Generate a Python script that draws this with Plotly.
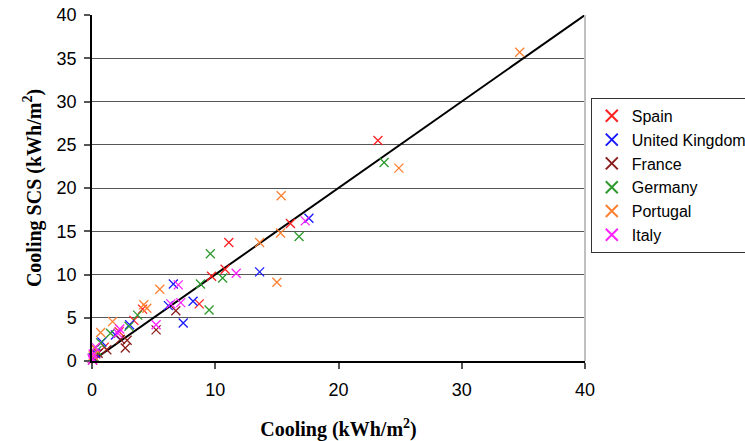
import plotly.graph_objects as go

# ---- data ----
countries = ["Spain", "United Kingdom", "France", "Germany", "Portugal", "Italy"]
colors = ["#ff2020", "#1a1aff", "#8b1c1c", "#2e9a2e", "#ff8030", "#ff20ff"]

spain_x = [23.2, 16.1, 11.1, 10.8, 9.7, 8.7, 4.1, 3.4, 2.2, 1.0, 0.3, 0.1]
spain_y = [25.5, 15.9, 13.7, 10.6, 9.8, 6.6, 6.0, 4.7, 3.4, 1.6, 0.8, 0.3]

uk_x = [17.6, 13.6, 8.2, 7.4, 6.6, 6.2, 3.05, 1.9, 0.8, 0.3, 0.1]
uk_y = [16.5, 10.3, 6.9, 4.4, 8.9, 6.4, 4.2, 3.0, 2.2, 0.9, 0.4]

france_x = [6.8, 5.2, 2.3, 2.85, 2.7, 1.2, 0.5, 0.2, 0.05]
france_y = [5.8, 3.6, 2.5, 2.4, 1.5, 1.3, 0.9, 0.4, 0.1]

germany_x = [23.7, 16.8, 9.6, 10.6, 8.8, 9.5, 3.7, 3.0, 1.5, 0.7, 0.4, 0.15]
germany_y = [22.95, 14.4, 12.4, 9.6, 8.9, 5.9, 5.3, 4.0, 3.2, 2.1, 1.2, 0.5]

portugal_x = [34.7, 24.9, 15.35, 15.3, 13.6, 15.0, 5.5, 4.2, 4.45, 1.67, 0.7, 0.2, 0.1]
portugal_y = [35.7, 22.3, 19.1, 14.8, 13.7, 9.1, 8.3, 6.5, 6.1, 4.55, 3.3, 1.5, 0.6]

italy_x = [17.3, 11.7, 7.0, 7.2, 6.4, 5.2, 2.25, 2.1, 0.3, 0.1, 0.0, 0.05]
italy_y = [16.2, 10.15, 8.8, 6.75, 6.6, 4.2, 3.7, 3.2, 1.6, 0.8, 0.3, 0.1]

series_x = [spain_x, uk_x, france_x, germany_x, portugal_x, italy_x]
series_y = [spain_y, uk_y, france_y, germany_y, portugal_y, italy_y]

line_x = [0, 40]
line_y = [0, 40]

x_ticks = [0, 10, 20, 30, 40]
y_ticks = [0, 5, 10, 15, 20, 25, 30, 35, 40]

fig = go.Figure()

fig.add_trace(go.Scatter(
    x=line_x, y=line_y, mode="lines",
    line=dict(color="black", width=2),
    showlegend=False, hoverinfo="skip"))

for name, col, xs, ys in zip(countries, colors, series_x, series_y):
    fig.add_trace(go.Scatter(
        x=xs, y=ys, mode="markers", name=name, legendgroup=name,
        cliponaxis=False,
        marker=dict(symbol="x-thin", size=9, color=col,
                    line=dict(color=col, width=1.3))))

fig.add_shape(type="line", xref="paper", yref="paper",
              x0=1, x1=1, y0=0, y1=1,
              line=dict(color="#c0c0c0", width=2))

fig.update_layout(
    width=745, height=441,
    margin=dict(l=92, r=160, t=15, b=80, autoexpand=False),
    paper_bgcolor="white", plot_bgcolor="white",
    font=dict(family="Liberation Sans, Arial, sans-serif", color="black"),
    showlegend=True,
    legend=dict(
        xref="container", yref="container",
        x=0.793, xanchor="left", y=0.778, yanchor="top",
        bordercolor="#333333", borderwidth=1, bgcolor="white",
        font=dict(size=16, family="Liberation Sans, Arial, sans-serif"),
        tracegroupgap=0, itemsizing="constant"),
    xaxis=dict(
        range=[0, 40], tickvals=x_ticks, showgrid=False, zeroline=False,
        showline=True, linecolor="black", linewidth=1.5,
        ticks="outside", ticklen=6, tickcolor="#555", tickwidth=1.5,
        tickfont=dict(size=18), automargin=False, ticklabelstandoff=6,
        title=dict(text="<b>Cooling (kWh/m<sup>2</sup>)</b>",
                   font=dict(family="Liberation Serif, Times New Roman, serif", size=20),
                   standoff=30)),
    yaxis=dict(
        range=[0, 40], tickvals=y_ticks, showgrid=True, gridcolor="#555555",
        gridwidth=1, zeroline=False,
        showline=True, linecolor="black", linewidth=1.5,
        ticks="outside", ticklen=6, tickcolor="#555", tickwidth=1.5,
        tickfont=dict(size=18), ticklabelstandoff=4, automargin=False,
        title=dict(text="<b>Cooling SCS (kWh/m<sup>2</sup>)</b>",
                   font=dict(family="Liberation Serif, Times New Roman, serif", size=20),
                   standoff=10)),
)

fig.write_html("out.html")
